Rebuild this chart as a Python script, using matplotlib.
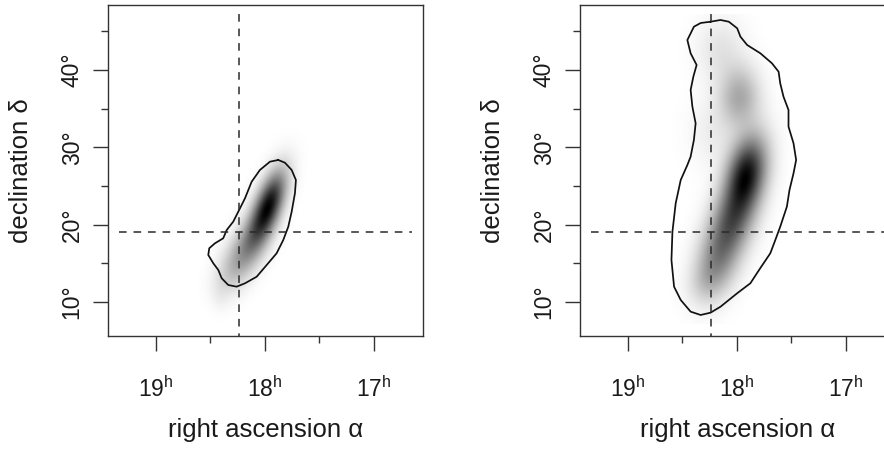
import numpy as np
import matplotlib
matplotlib.use("Agg")
import matplotlib.pyplot as plt
from matplotlib.colors import LinearSegmentedColormap

plt.rcParams['font.family'] = ['Liberation Sans', 'DejaVu Sans']
plt.rcParams['mathtext.fontset'] = 'custom'
plt.rcParams['mathtext.rm'] = 'Liberation Sans'
plt.rcParams['mathtext.it'] = 'Liberation Sans'

# axis ticks
ra_ticks = [19, 18, 17]
ra_minor = [18.5, 17.5]
ra_labels = [r'19$^{\mathregular{h}}$', r'18$^{\mathregular{h}}$', r'17$^{\mathregular{h}}$']
dec_ticks = [10, 20, 30, 40]
dec_minor = [15, 25, 35, 45]
dec_labels = ['10°', '20°', '30°', '40°']

# reference position (dashed cross)
ra0 = 18.24
dec0 = 19.1

# extent of the density grid
grid_ra = [19.34, 16.65]
grid_dec = [7.2, 47.2]

# left map: blobs (ra, dec, sigma ra, sigma dec, correlation, weight)
left_ra = [17.97, 18.12, 18.28, 18.40, 18.42]
left_dec = [22.5, 18.0, 14.8, 12.5, 10.5]
left_sra = [0.10, 0.11, 0.10, 0.08, 0.05]
left_sdec = [2.8, 2.6, 2.2, 1.6, 1.2]
left_rho = [-0.6, -0.5, -0.3, -0.1, 0.0]
left_w = [1.0, 0.42, 0.18, 0.04, 0.02]

# right map
right_ra = [17.92, 18.05, 18.18, 18.28, 17.98, 18.15, 18.20]
right_dec = [26.4, 20.5, 15.5, 12.5, 36.5, 42.5, 32.0]
right_sra = [0.12, 0.13, 0.13, 0.11, 0.12, 0.14, 0.15]
right_sdec = [3.2, 3.0, 3.0, 1.8, 2.6, 2.8, 3.0]
right_rho = [-0.3, -0.3, -0.3, -0.2, 0.0, 0.0, 0.0]
right_w = [1.0, 0.55, 0.40, 0.08, 0.30, 0.08, 0.05]

# credible-region outlines
left_c_ra = [17.878, 17.954, 18.046, 18.122, 18.183, 18.229, 18.291, 18.351, 18.383,
             18.459, 18.511, 18.520, 18.474, 18.428, 18.397, 18.337, 18.260, 18.183,
             18.076, 17.984, 17.893, 17.832, 17.786, 17.755, 17.725, 17.716, 17.755,
             17.817]
left_c_dec = [28.37, 28.15, 27.08, 25.56, 23.42, 22.12, 20.39, 19.31, 18.24,
              17.59, 16.95, 16.08, 15.01, 14.14, 13.07, 12.20, 11.98, 12.42,
              13.27, 14.79, 16.30, 18.02, 19.74, 21.68, 24.06, 25.78, 27.08,
              28.02]

right_c_ra = [18.242, 18.151, 18.075, 17.998, 17.968, 17.907, 17.785, 17.679, 17.618,
              17.603, 17.573, 17.527, 17.527, 17.481, 17.457, 17.481, 17.518, 17.542,
              17.603, 17.648, 17.694, 17.785, 17.877, 17.998, 18.151, 18.242, 18.333,
              18.425, 18.516, 18.577, 18.601, 18.592, 18.562, 18.516, 18.455, 18.425,
              18.395, 18.379, 18.409, 18.425, 18.400, 18.370, 18.425, 18.455, 18.395,
              18.333]
right_c_dec = [46.26, 46.48, 46.26, 45.41, 44.32, 43.25, 42.17, 40.88, 39.79,
               38.29, 36.56, 34.84, 32.68, 30.53, 28.37, 26.65, 24.49, 22.33,
               19.74, 18.02, 16.30, 14.40, 12.42, 11.13, 9.39, 8.62, 8.32,
               8.75, 10.26, 11.98, 15.43, 19.09, 22.77, 25.78, 27.72, 28.80,
               30.96, 33.12, 35.27, 37.43, 39.15, 40.66, 42.17, 43.89, 45.61,
               46.09]


def density(ras, decs, sras, sdecs, rhos, ws):
    ra = np.linspace(grid_ra[0], grid_ra[1], 180)
    dec = np.linspace(grid_dec[0], grid_dec[1], 220)
    R, D = np.meshgrid(ra, dec)
    z = np.zeros_like(R)
    for m_ra, m_dec, s1, s2, r, w in zip(ras, decs, sras, sdecs, rhos, ws):
        u = (R - m_ra) / s1
        v = (D - m_dec) / s2
        q = (u * u - 2 * r * u * v + v * v) / (1 - r * r)
        z += w * np.exp(-0.5 * q)
    z = z / z.max()
    return z ** 0.85


grey = LinearSegmentedColormap.from_list('grey', ['#ffffff', '#000000'])

fig = plt.figure(figsize=(8.84, 4.5), dpi=100)
ax1 = fig.add_axes([108 / 884, 114 / 450, 315 / 884, 331 / 450])
ax2 = fig.add_axes([580 / 884, 114 / 450, 315 / 884, 331 / 450])

maps = [
    (ax1, density(left_ra, left_dec, left_sra, left_sdec, left_rho, left_w), left_c_ra, left_c_dec),
    (ax2, density(right_ra, right_dec, right_sra, right_sdec, right_rho, right_w), right_c_ra, right_c_dec),
]

for ax, z, cra, cdec in maps:
    ax.imshow(z, cmap=grey, vmin=0, vmax=1, origin='lower', aspect='auto',
              interpolation='bilinear',
              extent=[grid_ra[0], grid_ra[1], grid_dec[0], grid_dec[1]])
    ax.plot(cra + cra[:1], cdec + cdec[:1], color='#111111', lw=1.25)
    ax.plot([ra0, ra0], [5.0, grid_dec[1]], color='#2a2a2a', lw=1.1, ls=(0, (5.0, 4.5)))
    ax.plot(grid_ra, [dec0, dec0], color='#2a2a2a', lw=1.1, ls=(0, (5.0, 4.5)))

    ax.set_xlim(19.44, 16.55)
    ax.set_ylim(5.6, 48.42)
    ax.set_xticks(ra_ticks)
    ax.set_xticklabels(ra_labels)
    ax.set_xticks(ra_minor, minor=True)
    ax.set_yticks(dec_ticks)
    ax.set_yticklabels(dec_labels, rotation=90, va='center')
    ax.set_yticks(dec_minor, minor=True)
    ax.tick_params(which='major', length=11, width=1.0, color='#333333',
                   labelsize=16.5, labelcolor='#1a1a1a')
    ax.tick_params(which='minor', length=5, width=1.0, color='#333333')
    ax.tick_params(axis='x', which='major', pad=18)
    ax.tick_params(axis='y', which='major', pad=6.5)
    for s in ax.spines.values():
        s.set_color('#333333')
        s.set_linewidth(1.0)

    ax.text(0.5, -0.285, 'right ascension α', transform=ax.transAxes,
            ha='center', va='center', fontsize=18.5, color='#1a1a1a')
    ax.text(-0.275, 0.5, 'declination δ', transform=ax.transAxes, rotation=90,
            ha='center', va='center', fontsize=18.5, color='#1a1a1a')

fig.savefig('out.png', dpi=100)
